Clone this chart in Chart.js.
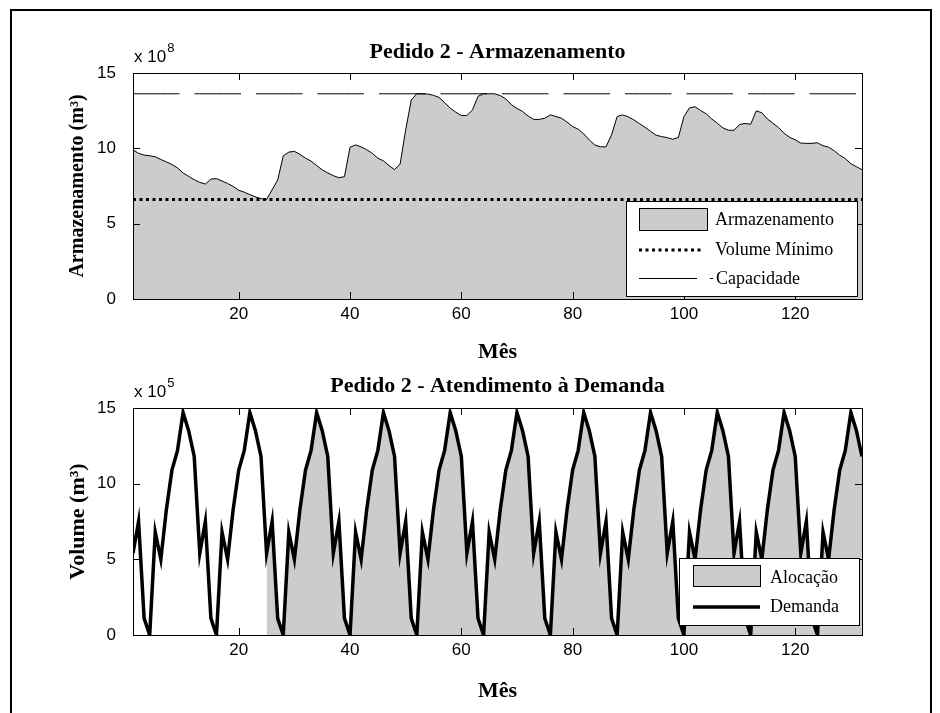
<!DOCTYPE html>
<html>
<head>
<meta charset="utf-8">
<title>Pedido 2</title>
<script src="https://cdn.jsdelivr.net/npm/chart.js@4.4.0/dist/chart.umd.min.js"></script>
<style>
    body { margin: 0; background: #fff; width: 940px; height: 713px; overflow: hidden; position: relative; }
    #moldura { position: absolute; left: 10px; top: 9px; width: 918px; height: 760px; border: 2px solid #000; }
    .painel { position: absolute; left: 0; width: 940px; }
    #painelArmazenamento { top: 0; height: 366px; }
    #painelDemanda { top: 366px; height: 347px; }
</style>
</head>
<body>
<div id="moldura"></div>
<div class="painel" id="painelArmazenamento"><canvas id="armazenamentoChart"></canvas></div>
<div class="painel" id="painelDemanda"><canvas id="demandaChart"></canvas></div>
<script>
// DADOS
const meses = Array.from({length: 132}, (_, i) => i + 1);
const xTicks = [20, 40, 60, 80, 100, 120];
const yTicks = [0, 5, 10, 15];

// armazenamento em 10^8 m3
const armazenamento = [
    9.90, 9.67, 9.55, 9.51, 9.44, 9.26, 9.10, 8.93, 8.70, 8.37, 8.14, 7.92,
    7.74, 7.63, 7.96, 7.99, 7.83, 7.67, 7.47, 7.22, 7.09, 6.93, 6.78, 6.66,
    6.60, 7.25, 7.90, 9.50, 9.75, 9.80, 9.60, 9.35, 9.15, 8.86, 8.57, 8.37,
    8.19, 8.05, 8.12, 10.07, 10.23, 10.09, 9.91, 9.67, 9.35, 9.17, 8.86, 8.59,
    8.95, 11.23, 13.20, 13.62, 13.62, 13.60, 13.52, 13.38, 13.03, 12.67, 12.40, 12.18,
    12.18, 12.55, 13.45, 13.62, 13.62, 13.62, 13.50, 13.28, 12.89, 12.65, 12.45, 12.15,
    11.92, 11.92, 12.00, 12.22, 12.11, 12.00, 11.74, 11.45, 11.27, 10.96, 10.55, 10.22,
    10.10, 10.10, 10.90, 12.11, 12.22, 12.09, 11.89, 11.64, 11.40, 11.13, 10.87, 10.78,
    10.71, 10.60, 10.72, 12.10, 12.69, 12.76, 12.51, 12.29, 11.95, 11.67, 11.36, 11.20,
    11.20, 11.58, 11.65, 11.60, 12.49, 12.36, 11.95, 11.67, 11.38, 11.00, 10.73, 10.57,
    10.35, 10.33, 10.33, 10.37, 10.17, 10.08, 9.84, 9.54, 9.32, 8.98, 8.78, 8.58
];
const volumeMinimo = 6.60;
const capacidade = 13.62;

// demanda e alocacao em 10^5 m3
const demanda = [
    5.4, 7.5, 1.1, 0, 6.8, 5.0, 8.3, 10.9, 12.2, 14.7, 13.5, 11.8,
    5.4, 7.5, 1.1, 0, 6.8, 5.0, 8.3, 10.9, 12.2, 14.7, 13.5, 11.8,
    5.4, 7.5, 1.1, 0, 6.8, 5.0, 8.3, 10.9, 12.2, 14.7, 13.5, 11.8,
    5.4, 7.5, 1.1, 0, 6.8, 5.0, 8.3, 10.9, 12.2, 14.7, 13.5, 11.8,
    5.4, 7.5, 1.1, 0, 6.8, 5.0, 8.3, 10.9, 12.2, 14.7, 13.5, 11.8,
    5.4, 7.5, 1.1, 0, 6.8, 5.0, 8.3, 10.9, 12.2, 14.7, 13.5, 11.8,
    5.4, 7.5, 1.1, 0, 6.8, 5.0, 8.3, 10.9, 12.2, 14.7, 13.5, 11.8,
    5.4, 7.5, 1.1, 0, 6.8, 5.0, 8.3, 10.9, 12.2, 14.7, 13.5, 11.8,
    5.4, 7.5, 1.1, 0, 6.8, 5.0, 8.3, 10.9, 12.2, 14.7, 13.5, 11.8,
    5.4, 7.5, 1.1, 0, 6.8, 5.0, 8.3, 10.9, 12.2, 14.7, 13.5, 11.8,
    5.4, 7.5, 1.1, 0, 6.8, 5.0, 8.3, 10.9, 12.2, 14.7, 13.5, 11.8
];
const alocacao = [
    null, null, null, null, null, null, null, null, null, null, null, null,
    null, null, null, null, null, null, null, null, null, null, null, null,
    5.4, 7.5, 1.1, 0, 6.8, 5.0, 8.3, 10.9, 12.2, 14.7, 13.5, 11.8,
    5.4, 7.5, 1.1, 0, 6.8, 5.0, 8.3, 10.9, 12.2, 14.7, 13.5, 11.8,
    5.4, 7.5, 1.1, 0, 6.8, 5.0, 8.3, 10.9, 12.2, 14.7, 13.5, 11.8,
    5.4, 7.5, 1.1, 0, 6.8, 5.0, 8.3, 10.9, 12.2, 14.7, 13.5, 11.8,
    5.4, 7.5, 1.1, 0, 6.8, 5.0, 8.3, 10.9, 12.2, 14.7, 13.5, 11.8,
    5.4, 7.5, 1.1, 0, 6.8, 5.0, 8.3, 10.9, 12.2, 14.7, 13.5, 11.8,
    5.4, 7.5, 1.1, 0, 6.8, 5.0, 8.3, 10.9, 12.2, 14.7, 13.5, 11.8,
    5.4, 7.5, 1.1, 0, 6.8, 5.0, 8.3, 10.9, 12.2, 14.7, 13.5, 11.8,
    5.4, 7.5, 1.1, 0, 6.8, 5.0, 8.3, 10.9, 12.2, 14.7, 13.5, 11.8
];

const serif = '"Liberation Serif", "Times New Roman", serif';
const sans = '"Liberation Sans", Arial, sans-serif';
const cinza = '#cccccc';

// Caixa, ticks para dentro, titulo, expoente e legenda (estilo matlab)
const estiloMatlab = {
    id: 'estiloMatlab',
    afterDraw(chart, args, opts) {
        const ctx = chart.ctx;
        const a = chart.chartArea;
        const sx = chart.scales.x, sy = chart.scales.y;
        ctx.save();
        ctx.strokeStyle = '#000';
        ctx.lineWidth = 1;
        ctx.setLineDash([]);
        ctx.beginPath();
        sx.ticks.forEach(t => {
            const px = Math.round(sx.getPixelForValue(t.value)) + 0.5;
            ctx.moveTo(px, a.top); ctx.lineTo(px, a.top + 7);
            ctx.moveTo(px, a.bottom); ctx.lineTo(px, a.bottom - 7);
        });
        sy.ticks.forEach(t => {
            const py = Math.round(sy.getPixelForValue(t.value)) + 0.5;
            ctx.moveTo(a.left, py); ctx.lineTo(a.left + 7, py);
            ctx.moveTo(a.right, py); ctx.lineTo(a.right - 7, py);
        });
        ctx.stroke();
        ctx.strokeRect(Math.round(a.left) + 0.5, Math.round(a.top) + 0.5,
            Math.round(a.right - a.left), Math.round(a.bottom - a.top));

        ctx.fillStyle = '#000';
        ctx.textBaseline = 'alphabetic';
        ctx.textAlign = 'center';
        ctx.font = 'bold 22px ' + serif;
        ctx.fillText(opts.titulo, (a.left + a.right) / 2, a.top - opts.tituloDy);

        ctx.textAlign = 'left';
        ctx.font = '17px ' + sans;
        ctx.fillText('x 10', a.left + 1, a.top - 11);
        const w = ctx.measureText('x 10').width;
        ctx.font = '13px ' + sans;
        ctx.fillText(opts.expoente, a.left + 2 + w, a.top - 21);

        opts.legenda(ctx, a);
        ctx.restore();
    }
};

function caixaLegenda(ctx, x0, y0, x1, y1) {
    ctx.fillStyle = '#fff';
    ctx.fillRect(x0, y0, x1 - x0, y1 - y0);
    ctx.strokeStyle = '#000';
    ctx.lineWidth = 1;
    ctx.strokeRect(x0 + 0.5, y0 + 0.5, x1 - x0, y1 - y0);
}

function textoLegenda(ctx, texto, x, y) {
    ctx.fillStyle = '#000';
    ctx.font = '18px ' + serif;
    ctx.textAlign = 'left';
    ctx.textBaseline = 'middle';
    ctx.fillText(texto, x, y);
}

function legendaArmazenamento(ctx, a) {
    caixaLegenda(ctx, 626, 201, 857, 296);
    ctx.fillStyle = cinza;
    ctx.fillRect(639, 208, 68, 22);
    ctx.strokeRect(639.5, 208.5, 68, 22);
    textoLegenda(ctx, 'Armazenamento', 715, 220);

    ctx.lineWidth = 3;
    ctx.setLineDash([3, 3.5]);
    ctx.beginPath(); ctx.moveTo(639, 250); ctx.lineTo(702, 250); ctx.stroke();
    textoLegenda(ctx, 'Volume Mínimo', 715, 250);

    ctx.lineWidth = 1;
    ctx.setLineDash([]);
    ctx.beginPath();
    ctx.moveTo(639, 278.5); ctx.lineTo(697, 278.5);
    ctx.moveTo(710, 278.5); ctx.lineTo(713, 278.5);
    ctx.stroke();
    textoLegenda(ctx, 'Capacidade', 716, 279);
}

function legendaDemanda(ctx, a) {
    caixaLegenda(ctx, 679, 192, 859, 259);
    ctx.fillStyle = cinza;
    ctx.fillRect(693, 199, 67, 21);
    ctx.strokeRect(693.5, 199.5, 67, 21);
    textoLegenda(ctx, 'Alocação', 770, 212);

    ctx.lineWidth = 3.5;
    ctx.beginPath(); ctx.moveTo(693, 241); ctx.lineTo(760, 241); ctx.stroke();
    textoLegenda(ctx, 'Demanda', 770, 241);
}

function eixos(alturaX, larguraY, tituloY, tamTituloY, padTituloX) {
    return {
        x: {
            type: 'linear', min: 1, max: 132,
            grid: {display: false, drawTicks: false},
            border: {display: false},
            ticks: {font: {family: sans, size: 17}, color: '#000', padding: 5, maxRotation: 0, autoSkip: false},
            afterBuildTicks: s => { s.ticks = xTicks.map(v => ({value: v})); },
            afterFit: s => { s.height = alturaX; },
            title: {display: true, text: 'Mês', color: '#000',
                font: {family: serif, size: 22, weight: 'bold'}, padding: {top: 0, bottom: padTituloX}}
        },
        y: {
            min: 0, max: 15,
            grid: {display: false, drawTicks: false},
            border: {display: false},
            ticks: {font: {family: sans, size: 17}, color: '#000', padding: 17},
            afterBuildTicks: s => { s.ticks = yTicks.map(v => ({value: v})); },
            afterFit: s => { s.width = larguraY; },
            title: {display: true, text: tituloY, color: '#000',
                font: {family: serif, size: tamTituloY, weight: 'bold'}, padding: 0}
        }
    };
}

document.addEventListener('DOMContentLoaded', () => {
    new Chart(document.getElementById('armazenamentoChart'), {
        type: 'line',
        data: {
            labels: meses,
            datasets: [
                {label: 'Capacidade', data: meses.map(() => capacidade), borderColor: '#000',
                    borderWidth: 1, borderDash: [46.5, 15], fill: false, order: 1},
                {label: 'Volume Mínimo', data: meses.map(() => volumeMinimo), borderColor: '#000',
                    borderWidth: 3, borderDash: [3, 3.5], fill: false, order: 2},
                {label: 'Armazenamento', data: armazenamento, borderColor: '#000', borderWidth: 1,
                    backgroundColor: cinza, fill: 'origin', order: 3},
            ],
        },
        options: {
            responsive: true, maintainAspectRatio: false, animation: false, devicePixelRatio: 1,
            layout: {padding: {top: 73, right: 78, bottom: 0, left: 66}},
            elements: {point: {radius: 0}, line: {tension: 0}},
            plugins: {
                legend: {display: false}, tooltip: {enabled: false},
                estiloMatlab: {titulo: 'Pedido 2 - Armazenamento', tituloDy: 15, expoente: '8', legenda: legendaArmazenamento}
            },
            scales: eixos(67, 67, 'Armazenamento (m³)', 20, 0),
        },
        plugins: [estiloMatlab],
    });

    new Chart(document.getElementById('demandaChart'), {
        type: 'line',
        data: {
            labels: meses,
            datasets: [
                {label: 'Demanda', data: demanda, borderColor: '#000', borderWidth: 3.5, fill: false, order: 1},
                {label: 'Alocação', data: alocacao, borderColor: 'transparent', borderWidth: 1,
                    backgroundColor: cinza, fill: 'origin', order: 2},
            ],
        },
        options: {
            responsive: true, maintainAspectRatio: false, animation: false, devicePixelRatio: 1,
            layout: {padding: {top: 42, right: 78, bottom: 0, left: 65}},
            elements: {point: {radius: 0}, line: {tension: 0}},
            plugins: {
                legend: {display: false}, tooltip: {enabled: false},
                estiloMatlab: {titulo: 'Pedido 2 - Atendimento à Demanda', tituloDy: 16, expoente: '5', legenda: legendaDemanda}
            },
            scales: eixos(78, 68, 'Volume (m³)', 22, 8),
        },
        plugins: [estiloMatlab],
    });
});
</script>
</body>
</html>
